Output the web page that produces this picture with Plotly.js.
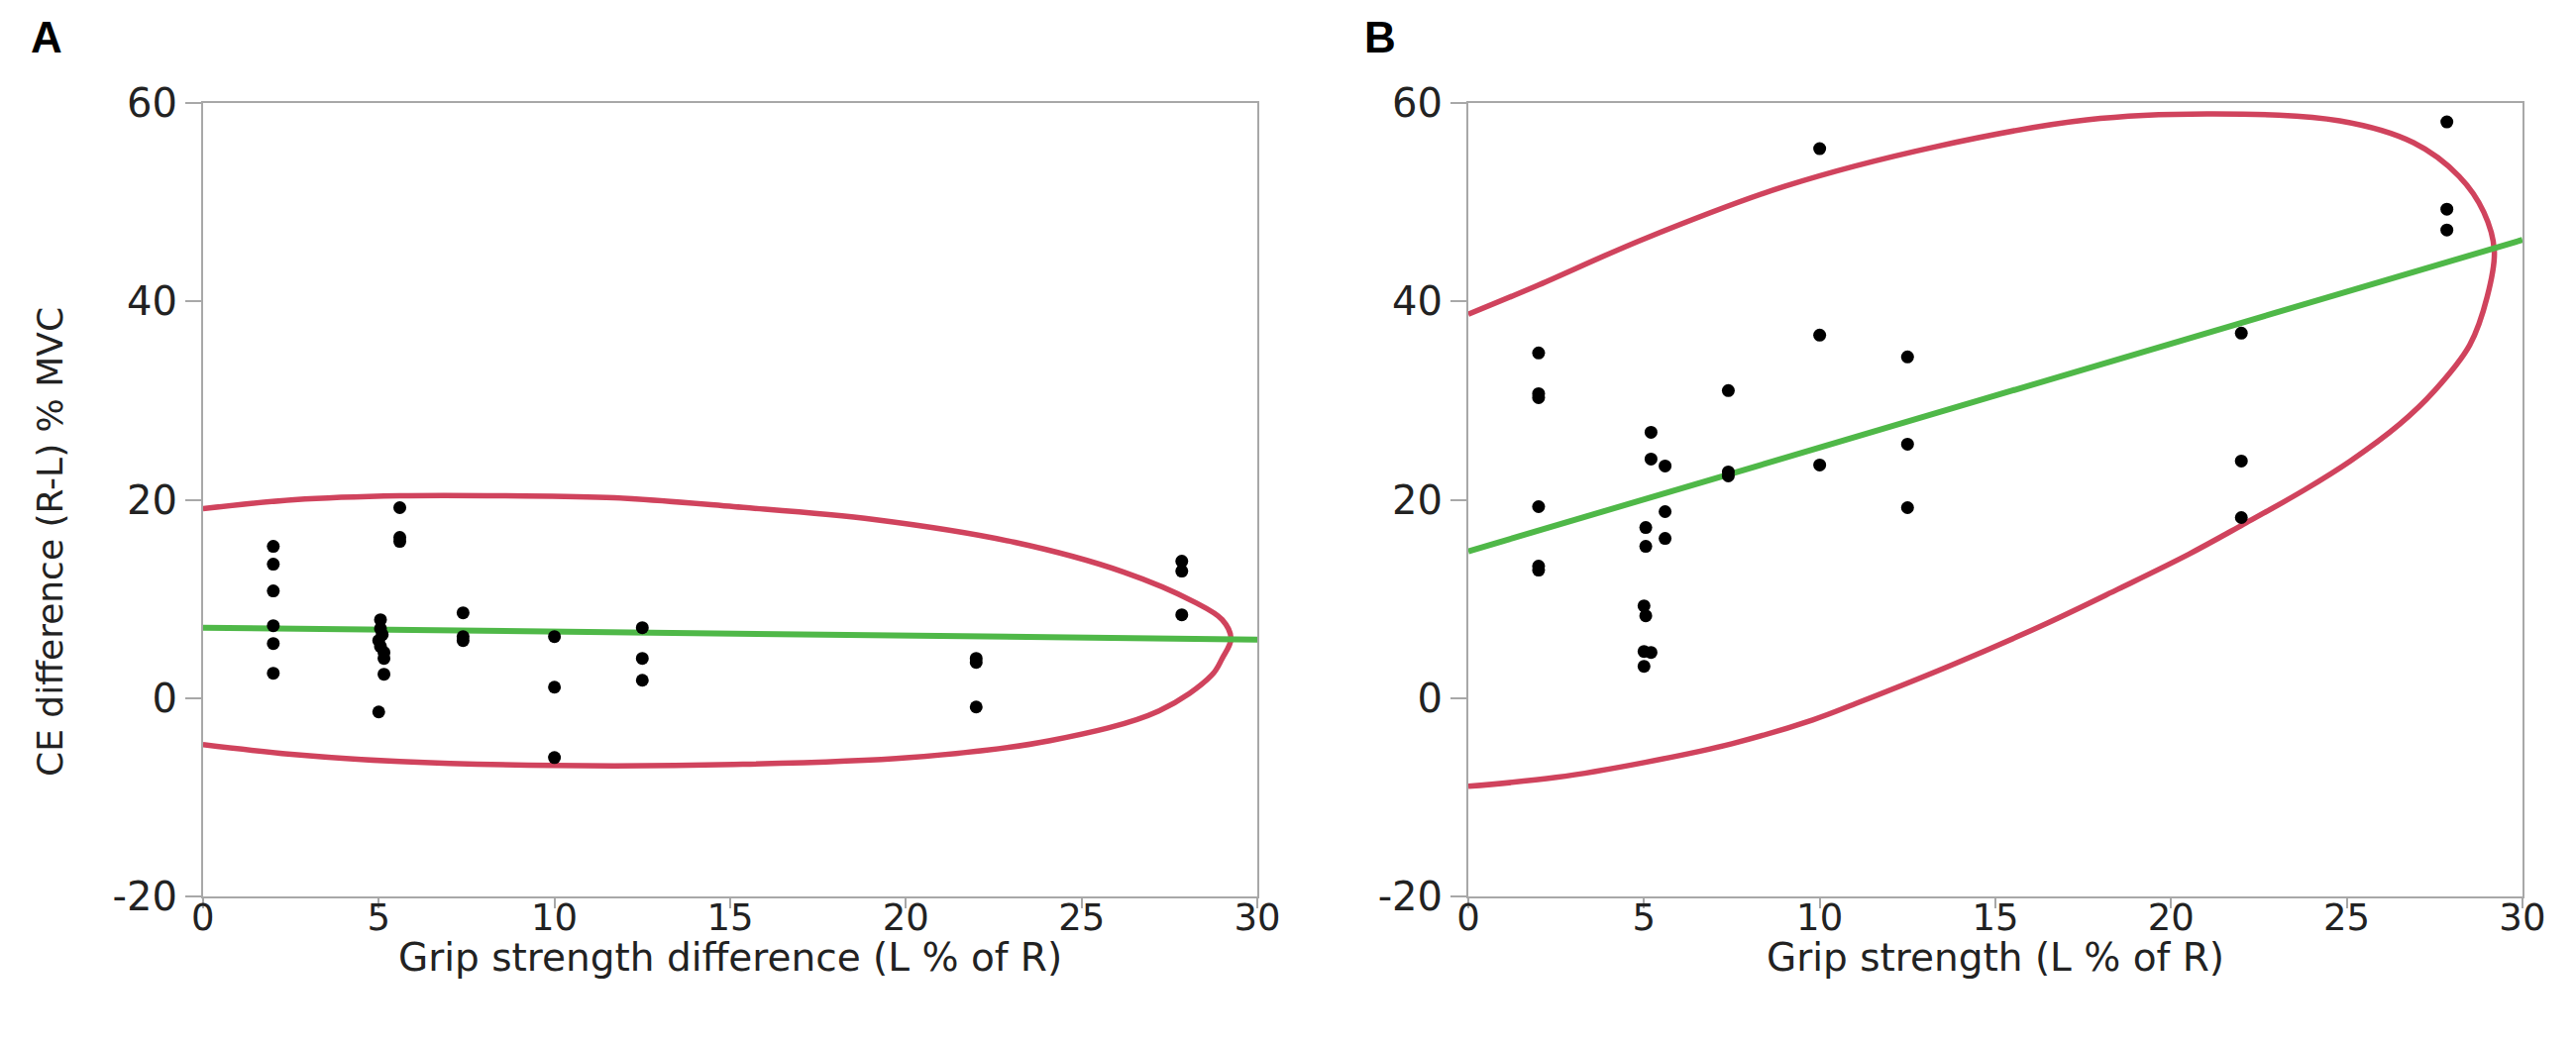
<!DOCTYPE html>
<html>
<head>
<meta charset="utf-8">
<script src="https://cdn.plot.ly/plotly-3.0.1.min.js"></script>
<style>
  html, body { margin: 0; padding: 0; background: #fff; }
  #chart { width: 2600px; height: 1056px; }
</style>
</head>
<body>
<div id="chart"></div>
<script>
// Panel A: CE difference vs grip strength difference
const gripA = [2, 2, 2, 2, 2, 2,
  5.05, 5.05, 5.1, 5.0, 5.05, 5.15, 5.15, 5.15, 5.0,
  5.6, 5.6, 5.6, 7.4, 7.4, 7.4, 10, 10, 10,
  12.5, 12.5, 12.5, 22, 22, 22, 27.85, 27.85, 27.85];
const ceA = [15.3, 13.5, 10.8, 7.3, 5.5, 2.5,
  7.9, 7.0, 6.4, 5.8, 5.2, 4.6, 4.0, 2.4, -1.4,
  19.2, 16.2, 15.8, 8.6, 6.2, 5.8, 6.2, 1.1, -6.0,
  7.1, 4.0, 1.8, 4.0, 3.6, -0.9, 13.8, 12.8, 8.4];

// Panel B: CE difference vs grip strength
const gripB = [2, 2, 2, 2, 2, 2,
  5.2, 5.2, 5.05, 5.05, 5.0, 5.05, 5.0, 5.2, 5.0,
  5.6, 5.6, 5.6, 7.4, 7.4, 7.4, 10, 10, 10,
  12.5, 12.5, 12.5, 22, 22, 22, 27.85, 27.85, 27.85];
const ceB = [34.8, 30.7, 30.3, 19.3, 13.3, 12.9,
  26.8, 24.1, 17.2, 15.3, 9.3, 8.3, 4.7, 4.6, 3.2,
  23.4, 18.8, 16.1, 31.0, 22.8, 22.4, 55.4, 36.6, 23.5,
  34.4, 25.6, 19.2, 36.8, 23.9, 18.2, 58.1, 49.3, 47.2];

// fitted lines, end points
const fitX = [0, 30];
const fitA = [7.1, 5.9];
const fitB = [14.8, 46.2];

// 95% density ellipses
const ellipseAx = [0, 2.6, 5.6, 8.6, 11.7, 15.1, 19.1, 23.1, 26.2, 28.2, 29.0, 29.25,
  29.0, 28.7, 27.2, 24.1, 20.1, 15.1, 10, 5.6, 2.6, 0];
const ellipseAy = [19.1, 20.0, 20.4, 20.4, 20.2, 19.3, 18.0, 15.7, 12.7, 9.7, 7.9, 6.0,
  4.0, 2.3, -1.3, -4.3, -6.0, -6.7, -6.8, -6.4, -5.7, -4.7];
const ellipseBx = [0, 1.9, 5, 9.0, 13.3, 17.6, 21.2, 24.8, 26.9, 28.2, 28.9, 29.2,
  29.0, 28.5, 27.5, 26.5, 25.1, 23.8, 22.0, 20.5, 18.5, 16.5, 13.8, 11.1, 9.8,
  7.5, 5, 2.5, 0];
const ellipseBy = [38.7, 41.5, 46.3, 51.6, 55.6, 58.3, 58.9, 58.2, 56.0, 52.6, 49.0, 45.1,
  40.5, 35.6, 31.0, 27.6, 23.9, 21.0, 17.4, 14.5, 11.0, 7.6, 3.4, -0.45, -2.2,
  -4.6, -6.5, -8.0, -8.9];

// ticks
const xTicks = [0, 5, 10, 15, 20, 25, 30];
const xTickText = ['0', '5', '10', '15', '20', '25', '30'];
const yTicks = [-20, 0, 20, 40, 60];
const yTickText = ['-20', '0', '20', '40', '60'];

const RED = '#d0435d';
const GREEN = '#4fb848';
const FRAME = '#a8a8a8';
const FONT = 'DejaVu Sans, Verdana, sans-serif';
const W = 2600, H = 1056;

function ellipseTrace(x, y, xa, ya) {
  return {
    x, y, xaxis: xa, yaxis: ya, type: 'scatter', mode: 'lines',
    line: { color: RED, width: 5.5, shape: 'spline', smoothing: 1 },
    hoverinfo: 'skip'
  };
}

function fitTrace(y, xa, ya) {
  return {
    x: fitX, y, xaxis: xa, yaxis: ya, type: 'scatter', mode: 'lines',
    line: { color: GREEN, width: 6 }, hoverinfo: 'skip'
  };
}

function pointTrace(x, y, xa, ya) {
  return {
    x, y, xaxis: xa, yaxis: ya, type: 'scatter', mode: 'markers',
    marker: { color: '#000', size: 13 }
  };
}

const data = [
  ellipseTrace(ellipseAx, ellipseAy, 'x', 'y'),
  fitTrace(fitA, 'x', 'y'),
  pointTrace(gripA, ceA, 'x', 'y'),
  ellipseTrace(ellipseBx, ellipseBy, 'x2', 'y2'),
  fitTrace(fitB, 'x2', 'y2'),
  pointTrace(gripB, ceB, 'x2', 'y2')
];

function axis(domain, range, vals, text, anchor, isX) {
  return {
    domain, range, anchor,
    tickmode: 'array', tickvals: vals, ticktext: text,
    showline: true, mirror: true, linecolor: FRAME, linewidth: 2,
    ticks: 'outside', ticklen: isX ? 10 : 16, tickwidth: 2, tickcolor: FRAME,
    ticklabelstandoff: isX ? -22 : 0,
    showgrid: false, zeroline: false, fixedrange: true,
    tickfont: { family: FONT, size: isX ? 37 : 40, color: '#222' }
  };
}

const yDom = [0.143, 0.9015];

function label(text, px, py, size, extra) {
  return Object.assign({
    text, x: px / W, y: 1 - py / H, xref: 'paper', yref: 'paper',
    xanchor: 'center', yanchor: 'middle', showarrow: false,
    font: { family: FONT, size, color: '#222' }
  }, extra || {});
}

const letterFont = { family: 'Liberation Sans, Arial, sans-serif', size: 44, color: '#000' };

const layout = {
  width: W, height: H,
  margin: { l: 0, r: 0, t: 0, b: 0 },
  paper_bgcolor: '#fff', plot_bgcolor: '#fff',
  showlegend: false,
  xaxis: axis([0.0788, 0.4881], [0, 30], xTicks, xTickText, 'y', true),
  yaxis: axis(yDom, [-20, 60], yTicks, yTickText, 'x', false),
  xaxis2: axis([0.5700, 0.9792], [0, 30], xTicks, xTickText, 'y2', true),
  yaxis2: axis(yDom, [-20, 60], yTicks, yTickText, 'x2', false),
  annotations: [
    label('<b>A</b>', 47, 37, 44, { font: letterFont }),
    label('<b>B</b>', 1393, 37, 44, { font: letterFont }),
    label('Grip strength difference (L % of R)', 737, 966, 39),
    label('Grip strength (L % of R)', 2014, 966, 39),
    label('CE difference (R-L) % MVC', 50, 547, 36, { textangle: -90 })
  ]
};

Plotly.newPlot('chart', data, layout, { displayModeBar: false, staticPlot: true });
</script>
</body>
</html>
